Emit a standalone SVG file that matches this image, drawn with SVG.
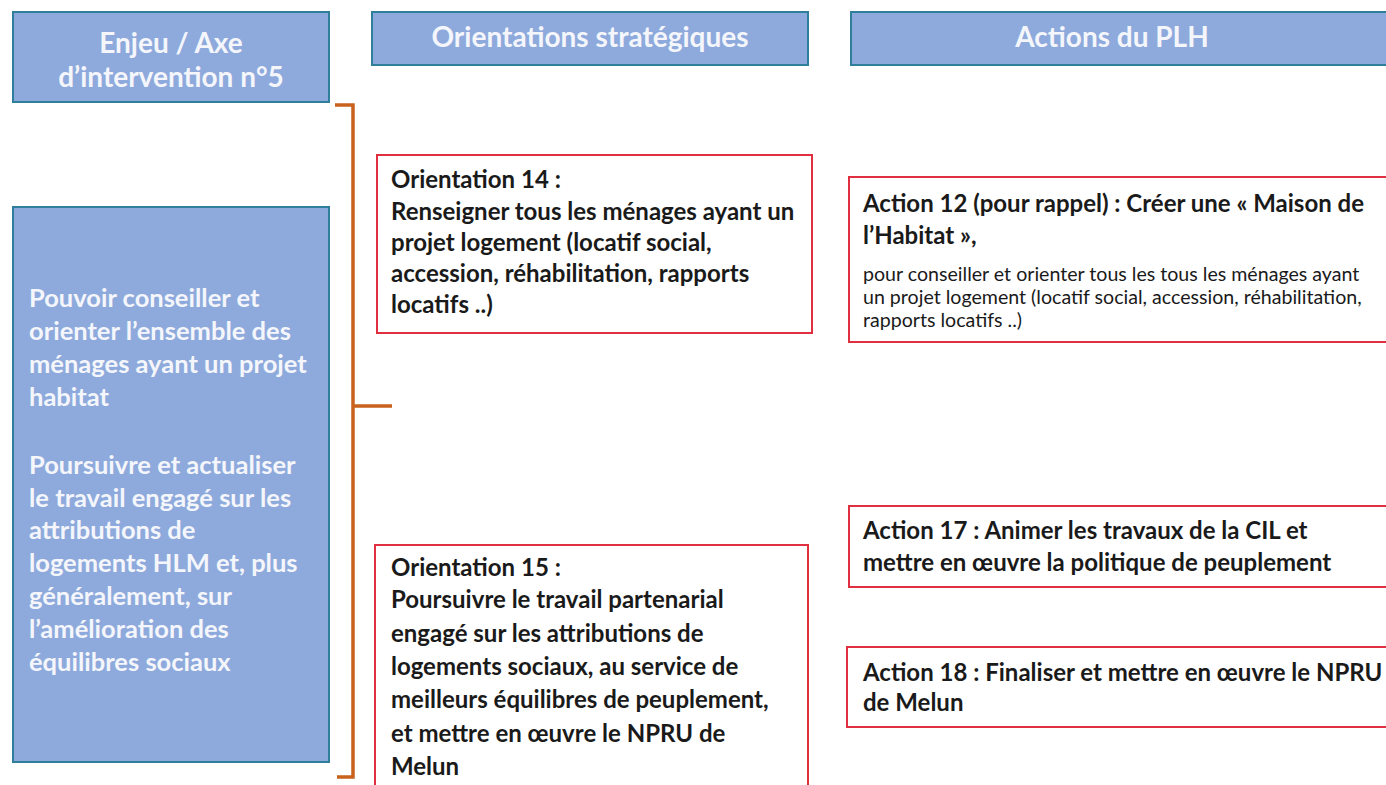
<svg xmlns="http://www.w3.org/2000/svg" width="1386" height="785" viewBox="0 0 1386 785">
<style>
.hdr{fill:#8eaadc;stroke:#2f7f9c;stroke-width:2}
.htxt{font-family:Lato,"Liberation Sans",sans-serif;font-weight:700;font-size:28px;fill:#f4f6fb;text-anchor:middle}
.ltxt{font-family:Lato,"Liberation Sans",sans-serif;font-weight:700;font-size:25.5px;fill:#f4f6fb}
.box{fill:#ffffff;stroke:#e0303f;stroke-width:2}
.b{font-family:Lato,"Liberation Sans",sans-serif;font-weight:700;font-size:24px;fill:#1a1a1a}
.r{font-family:Lato,"Liberation Sans",sans-serif;font-weight:400;font-size:19.6px;fill:#1a1a1a}
.br{fill:none;stroke:#c8621c;stroke-width:3.5;stroke-linejoin:miter}
</style>
<rect width="1386" height="785" fill="#ffffff"/>
<g id="h1">
<rect class="hdr" x="13" y="12" width="316" height="90"/>
<text class="htxt" x="171" y="53">Enjeu / Axe</text>
<text class="htxt" x="171" y="87">d’intervention n°5</text>
</g>
<g id="h2">
<rect class="hdr" x="372" y="12" width="436" height="53"/>
<text class="htxt" x="590" y="47">Orientations stratégiques</text>
</g>
<g id="h3">
<rect class="hdr" x="851" y="12" width="545" height="53"/>
<text class="htxt" x="1112" y="47">Actions du PLH</text>
</g>
<g id="enjeu">
<rect class="hdr" x="13" y="207" width="316" height="555"/>
<text class="ltxt" x="29" y="307">Pouvoir conseiller et</text>
<text class="ltxt" x="29" y="340">orienter l’ensemble des</text>
<text class="ltxt" x="29" y="373">ménages ayant un projet</text>
<text class="ltxt" x="29" y="406">habitat</text>
<text class="ltxt" x="29" y="474">Poursuivre et actualiser</text>
<text class="ltxt" x="29" y="507">le travail engagé sur les</text>
<text class="ltxt" x="29" y="539">attributions de</text>
<text class="ltxt" x="29" y="572">logements HLM et, plus</text>
<text class="ltxt" x="29" y="605">généralement, sur</text>
<text class="ltxt" x="29" y="638">l’amélioration des</text>
<text class="ltxt" x="29" y="671">équilibres sociaux</text>
</g>
<g id="connectors">
<path class="br" d="M335 105 H353 V777 H337 M353 406 H392"/>
</g>
<g id="o14">
<rect class="box" x="377" y="155" width="435" height="178"/>
<text class="b" x="391" y="188">Orientation 14 :</text>
<text class="b" x="391" y="220">Renseigner tous les ménages ayant un</text>
<text class="b" x="391" y="251">projet logement (locatif social,</text>
<text class="b" x="391" y="282">accession, réhabilitation, rapports</text>
<text class="b" x="391" y="313">locatifs ..)</text>
</g>
<g id="o15">
<rect class="box" x="375" y="545" width="433" height="260"/>
<text class="b" x="391" y="576">Orientation 15 :</text>
<text class="b" x="391" y="608">Poursuivre le travail partenarial</text>
<text class="b" x="391" y="642">engagé sur les attributions de</text>
<text class="b" x="391" y="675">logements sociaux, au service de</text>
<text class="b" x="391" y="708">meilleurs équilibres de peuplement,</text>
<text class="b" x="391" y="742">et mettre en œuvre le NPRU de</text>
<text class="b" x="391" y="775">Melun</text>
</g>
<g id="a12">
<rect class="box" x="849" y="177" width="560" height="165"/>
<text class="b" x="863" y="212">Action 12 (pour rappel) : Créer une « Maison de</text>
<text class="b" x="863" y="244">l’Habitat »,</text>
<text class="r" x="863" y="281">pour conseiller et orienter tous les tous les ménages ayant</text>
<text class="r" x="863" y="304">un projet logement (locatif social, accession, réhabilitation,</text>
<text class="r" x="863" y="327">rapports locatifs ..)</text>
</g>
<g id="a17">
<rect class="box" x="849" y="506" width="560" height="81"/>
<text class="b" x="863" y="539">Action 17 : Animer les travaux de la CIL et</text>
<text class="b" x="863" y="571">mettre en œuvre la politique de peuplement</text>
</g>
<g id="a18">
<rect class="box" x="847" y="647" width="560" height="80"/>
<text class="b" x="863" y="681">Action 18 : Finaliser et mettre en œuvre le NPRU</text>
<text class="b" x="863" y="711">de Melun</text>
</g>
</svg>
